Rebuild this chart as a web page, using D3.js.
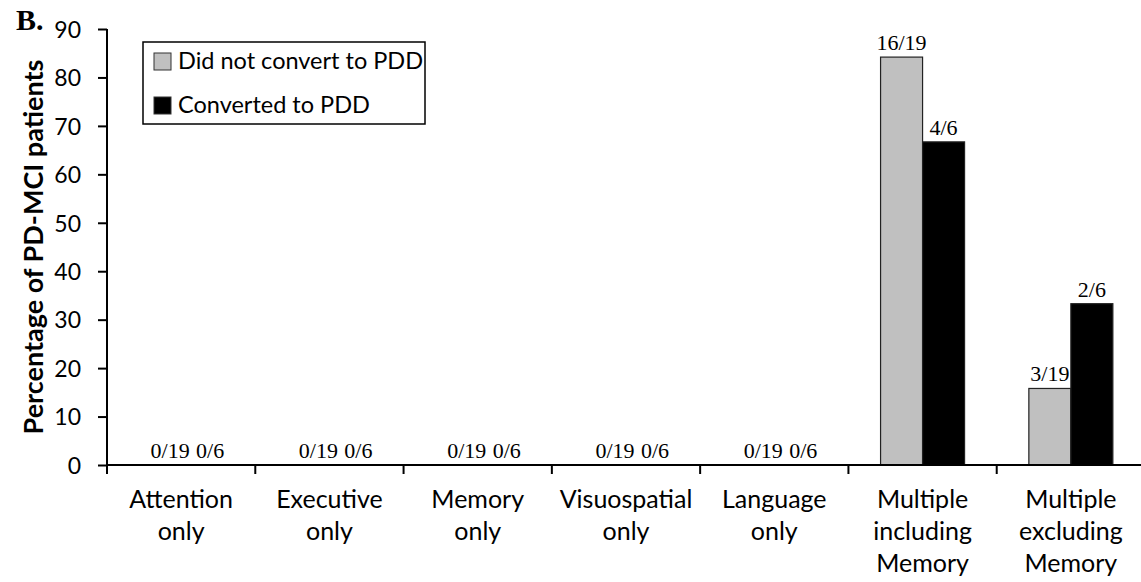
<!DOCTYPE html>
<html>
<head>
<meta charset="utf-8">
<script src="https://cdn.jsdelivr.net/npm/d3@7"></script>
<style>
  body { margin: 0; background: #fff; }
  svg { display: block; }
</style>
</head>
<body>
<div class="chart"></div>
<script>
// data
var categories = [
  ["Attention", "only"],
  ["Executive", "only"],
  ["Memory", "only"],
  ["Visuospatial", "only"],
  ["Language", "only"],
  ["Multiple", "including", "Memory"],
  ["Multiple", "excluding", "Memory"]
];
var seriesNames = ["Did not convert to PDD", "Converted to PDD"];
var notConverted = [0, 0, 0, 0, 0, 84.2, 15.8];
var converted = [0, 0, 0, 0, 0, 66.7, 33.3];
var notConvertedLabels = ["0/19", "0/19", "0/19", "0/19", "0/19", "16/19", "3/19"];
var convertedLabels = ["0/6", "0/6", "0/6", "0/6", "0/6", "4/6", "2/6"];
var yTicks = [0, 10, 20, 30, 40, 50, 60, 70, 80, 90];

var width = 1141, height = 582;
var margin = {top: 29, right: -4, bottom: 117, left: 107};
var colors = ["#c0c0c0", "#000000"];
var sans = "Lato, 'Open Sans', sans-serif";
var serif = "'Liberation Serif', 'Times New Roman', serif";

var svg = d3.select(".chart").append("svg")
    .attr("width", width)
    .attr("height", height);

var plotW = width - margin.left - margin.right;
var plotH = height - margin.top - margin.bottom;

var g = svg.append("g")
    .attr("transform", "translate(" + margin.left + "," + margin.top + ")");

var x = d3.scaleBand()
    .domain(d3.range(categories.length))
    .range([0, plotW]);

var xInner = d3.scaleBand()
    .domain([0, 1])
    .range([0, x.bandwidth()])
    .paddingOuter(0.765)
    .paddingInner(0);

var y = d3.scaleLinear()
    .domain([0, 90])
    .range([plotH, 0]);

// bars
var rows = categories.map(function(c, i) {
  return [
    {cat: i, s: 0, v: notConverted[i], label: notConvertedLabels[i]},
    {cat: i, s: 1, v: converted[i], label: convertedLabels[i]}
  ];
});

var groups = g.selectAll(".grp")
    .data(rows)
    .enter().append("g")
    .attr("class", "grp")
    .attr("transform", function(d, i) { return "translate(" + x(i) + ",0)"; });

groups.selectAll("rect")
    .data(function(d) { return d.filter(function(e) { return e.v > 0; }); })
    .enter().append("rect")
    .attr("x", function(d) { return xInner(d.s); })
    .attr("y", function(d) { return y(d.v); })
    .attr("width", xInner.bandwidth())
    .attr("height", function(d) { return y(0) - y(d.v); })
    .attr("fill", function(d) { return colors[d.s]; })
    .attr("stroke", "#222")
    .attr("stroke-width", 1.2);

// zero labels sit a little right of the bar centre in the original
groups.selectAll("text.val")
    .data(function(d) { return d; })
    .enter().append("text")
    .attr("class", "val")
    .attr("x", function(d) { return xInner(d.s) + xInner.bandwidth() / 2 + (d.v > 0 ? 0 : (d.s == 0 ? 10 : 8)); })
    .attr("y", function(d) { return y(d.v) - 7; })
    .attr("text-anchor", "middle")
    .style("font-family", serif)
    .style("font-size", "22px")
    .text(function(d) { return d.label; });

// y axis
var yAxis = g.append("g")
    .call(d3.axisLeft(y).tickValues(yTicks).tickSize(9).tickPadding(17));
yAxis.select(".domain").attr("stroke-width", 2).attr("d", "M0," + plotH + "V0");
yAxis.selectAll(".tick line").attr("stroke-width", 2);
yAxis.selectAll("text")
    .style("font-family", sans)
    .style("font-size", "23px")
    .attr("dy", "0.36em");

// x axis
var xAxis = g.append("g")
    .attr("transform", "translate(0," + plotH + ")")
    .call(d3.axisBottom(x).tickSize(0).tickFormat(""));
xAxis.select(".domain").attr("stroke-width", 2).attr("d", "M0,0H" + (width - margin.left));
xAxis.selectAll(".bnd")
    .data(d3.range(categories.length + 1))
    .enter().append("line")
    .attr("x1", function(i) { return i * x.step(); })
    .attr("x2", function(i) { return i * x.step(); })
    .attr("y1", 0).attr("y2", 9)
    .attr("stroke", "#000")
    .attr("stroke-width", 2);

var xl = g.append("g").selectAll("text")
    .data(categories)
    .enter().append("text")
    .attr("x", function(d, i) { return x(i) + x.bandwidth() / 2; })
    .attr("y", plotH + 43)
    .attr("text-anchor", "middle")
    .style("font-family", sans)
    .style("font-size", "25px");
xl.selectAll("tspan")
    .data(function(d) { return d; })
    .enter().append("tspan")
    .attr("x", function() { return d3.select(this.parentNode).attr("x"); })
    .attr("dy", function(d, j) { return j == 0 ? 0 : 32; })
    .text(function(d) { return d; });

// y title
svg.append("text")
    .attr("transform", "translate(43," + (margin.top + plotH / 2) + ") rotate(-90)")
    .attr("text-anchor", "middle")
    .style("font-family", sans)
    .style("font-weight", "bold")
    .style("font-size", "27px")
    .text("Percentage of PD-MCI patients");

// panel letter
svg.append("text")
    .attr("x", 16).attr("y", 30)
    .style("font-family", serif)
    .style("font-weight", "bold")
    .style("font-size", "30px")
    .text("B.");

// legend
var legend = svg.append("g").attr("transform", "translate(143,42)");
legend.append("rect")
    .attr("width", 282).attr("height", 82)
    .attr("fill", "#fff").attr("stroke", "#000").attr("stroke-width", 1.5);
var li = legend.selectAll(".li")
    .data(seriesNames)
    .enter().append("g")
    .attr("transform", function(d, i) { return "translate(11," + (11 + i * 44) + ")"; });
li.append("rect")
    .attr("width", 17).attr("height", 17)
    .attr("fill", function(d, i) { return colors[i]; })
    .attr("stroke", "#333");
li.append("text")
    .attr("x", 24).attr("y", 16)
    .style("font-family", sans)
    .style("font-size", "23.5px")
    .text(function(d) { return d; });
</script>
</body>
</html>
